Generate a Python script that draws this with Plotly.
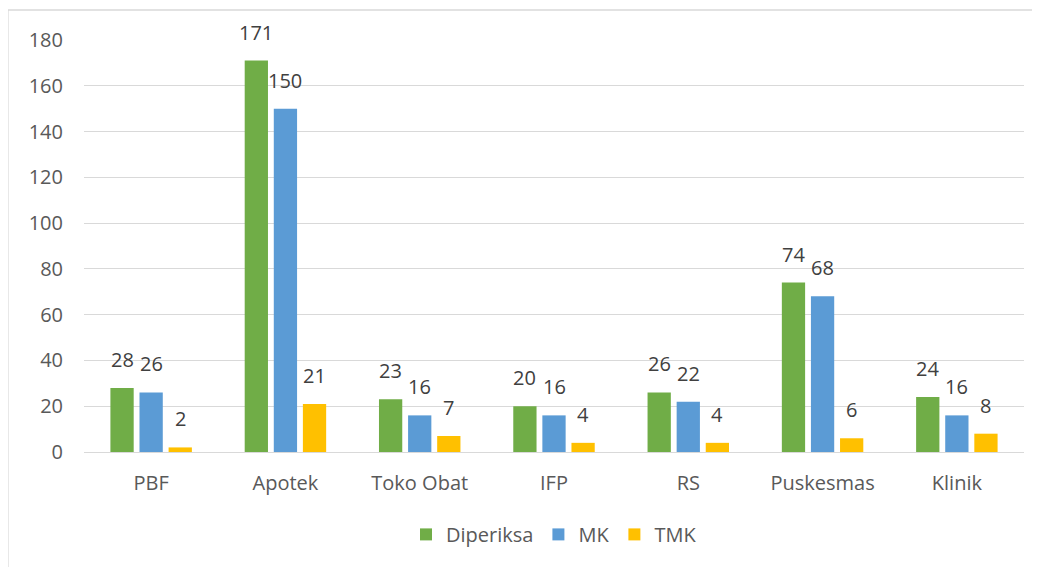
import plotly.graph_objects as go

categories = ["PBF", "Apotek", "Toko Obat", "IFP", "RS", "Puskesmas", "Klinik"]
diperiksa = [28, 171, 23, 20, 26, 74, 24]
mk = [26, 150, 16, 16, 22, 68, 16]
tmk = [2, 21, 7, 4, 4, 6, 8]

series = [("Diperiksa", diperiksa, "#70AD47"), ("MK", mk, "#5B9BD5"), ("TMK", tmk, "#FFC000")]

W, H = 1040, 567
ML, MR, MT, MB = 76, 24, 32, 123
BARGAP, GROUPGAP = 0.35, 0.2
plot_w = W - ML - MR
slot = plot_w / len(categories) * (1 - BARGAP) / len(series)

fig = go.Figure()
annotations = []
for i, (name, vals, col) in enumerate(series):
    fig.add_trace(go.Bar(
        x=categories, y=vals, name=name, marker_color=col, marker_line_width=0,
    ))
    for c, v in zip(categories, vals):
        annotations.append(dict(
            x=c, y=v, xref="x", yref="y", text=str(v), showarrow=False,
            xanchor="center", yanchor="bottom", xshift=(i - 1) * slot, yshift=13,
            font=dict(size=20, color="#404040", family="Open Sans"),
        ))

fig.update_layout(
    width=W, height=H,
    margin=dict(l=ML, r=MR, t=MT, b=MB, autoexpand=False),
    paper_bgcolor="white", plot_bgcolor="white",
    font=dict(family="Open Sans", size=20, color="#595959"),
    barmode="group", bargap=BARGAP, bargroupgap=GROUPGAP,
    legend=dict(orientation="h", x=0.5, xanchor="center", y=-0.20, yanchor="middle",
                font=dict(size=20, color="#595959"), traceorder="normal"),
    yaxis=dict(range=[0, 180], dtick=20, gridcolor="#D9D9D9", gridwidth=1.3,
               showline=False, zeroline=True, zerolinecolor="#D9D9D9", zerolinewidth=1.3,
               ticks="", ticklabelstandoff=20, automargin=False),
    xaxis=dict(showline=False, ticks="", ticklabelstandoff=17, automargin=False),
    annotations=annotations,
    shapes=[dict(type="rect", xref="paper", yref="paper", x0=-0.081, x1=1.05, y0=-0.4, y1=1.073,
                 line=dict(color="#D9D9D9", width=1.5), fillcolor="rgba(0,0,0,0)")],
)
fig.write_html("out.html")
